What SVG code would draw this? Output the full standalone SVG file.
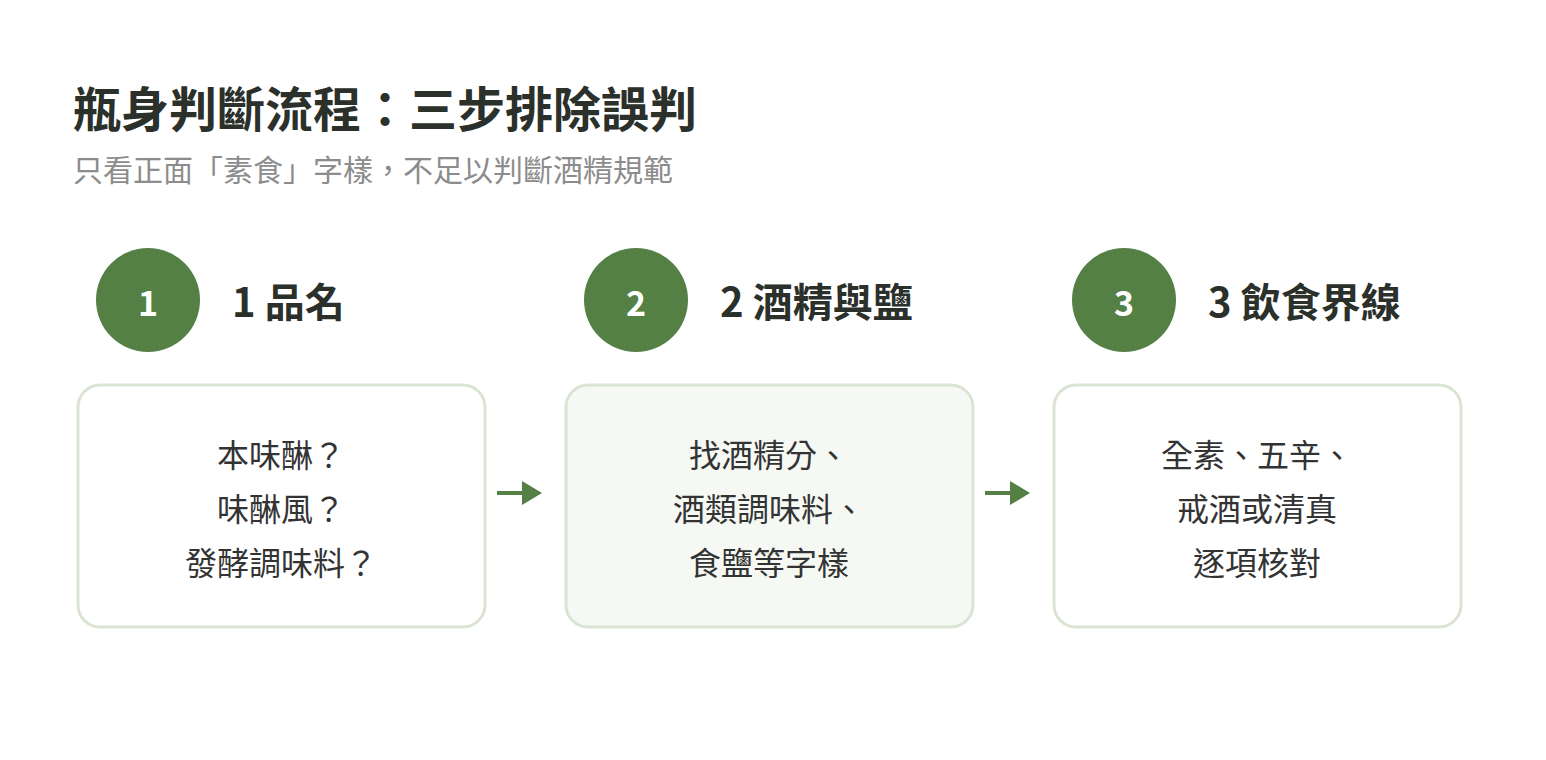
<svg xmlns="http://www.w3.org/2000/svg" width="1546" height="760" viewBox="0 0 1546 760">
<style>
text{font-family:"Noto Sans CJK TC","Noto Sans",sans-serif}
.t{font-size:48px;font-weight:700;fill:#2b302b}
.s{font-size:30px;fill:#8c8c8c}
.c{fill:#548045}
.n{font-size:34px;font-weight:700;fill:#fff;text-anchor:middle}
.h{font-size:40px;font-weight:700;fill:#2b302b}
.b{fill:#fff;stroke:#dae4d3;stroke-width:3}
.m{font-size:32px;fill:#333;text-anchor:middle}
.a{stroke:#548045;stroke-width:4;fill:none}
</style>
<defs><marker id="ar" markerWidth="6" markerHeight="6" refX="4" refY="3" orient="auto" markerUnits="strokeWidth"><path d="M0,0L5,3L0,6z" fill="#548045"/></marker></defs>
<rect width="1546" height="760" fill="#fff"/>
<text class="t" x="73" y="127">瓶身判斷流程：三步排除誤判</text>
<text class="s" x="73" y="181">只看正面「素食」字樣，不足以判斷酒精規範</text>
<g id="n1"><circle class="c" cx="148" cy="300" r="52"/><text class="n" x="148" y="316">1</text><text class="h" x="232" y="317">1 品名</text>
<rect class="b" x="78" y="385" width="407" height="242" rx="22"/>
<text class="m" x="281" y="467">本味醂？</text><text class="m" x="281" y="521">味醂風？</text><text class="m" x="281" y="575">發酵調味料？</text></g>
<g id="n2"><circle class="c" cx="636" cy="300" r="52"/><text class="n" x="636" y="316">2</text><text class="h" x="720" y="317">2 酒精與鹽</text>
<rect class="b" x="566" y="385" width="407" height="242" rx="22" style="fill:#f6f9f3"/>
<text class="m" x="769" y="467">找酒精分、</text><text class="m" x="769" y="521">酒類調味料、</text><text class="m" x="769" y="575">食鹽等字樣</text></g>
<g id="n3"><circle class="c" cx="1124" cy="300" r="52"/><text class="n" x="1124" y="316">3</text><text class="h" x="1208" y="317">3 飲食界線</text>
<rect class="b" x="1054" y="385" width="407" height="242" rx="22"/>
<text class="m" x="1257" y="467">全素、五辛、</text><text class="m" x="1257" y="521">戒酒或清真</text><text class="m" x="1257" y="575">逐項核對</text></g>
<g id="edges">
<path class="a" d="M497 493H538" marker-end="url(#ar)"/>
<path class="a" d="M985 493H1026" marker-end="url(#ar)"/>
</g>
</svg>
